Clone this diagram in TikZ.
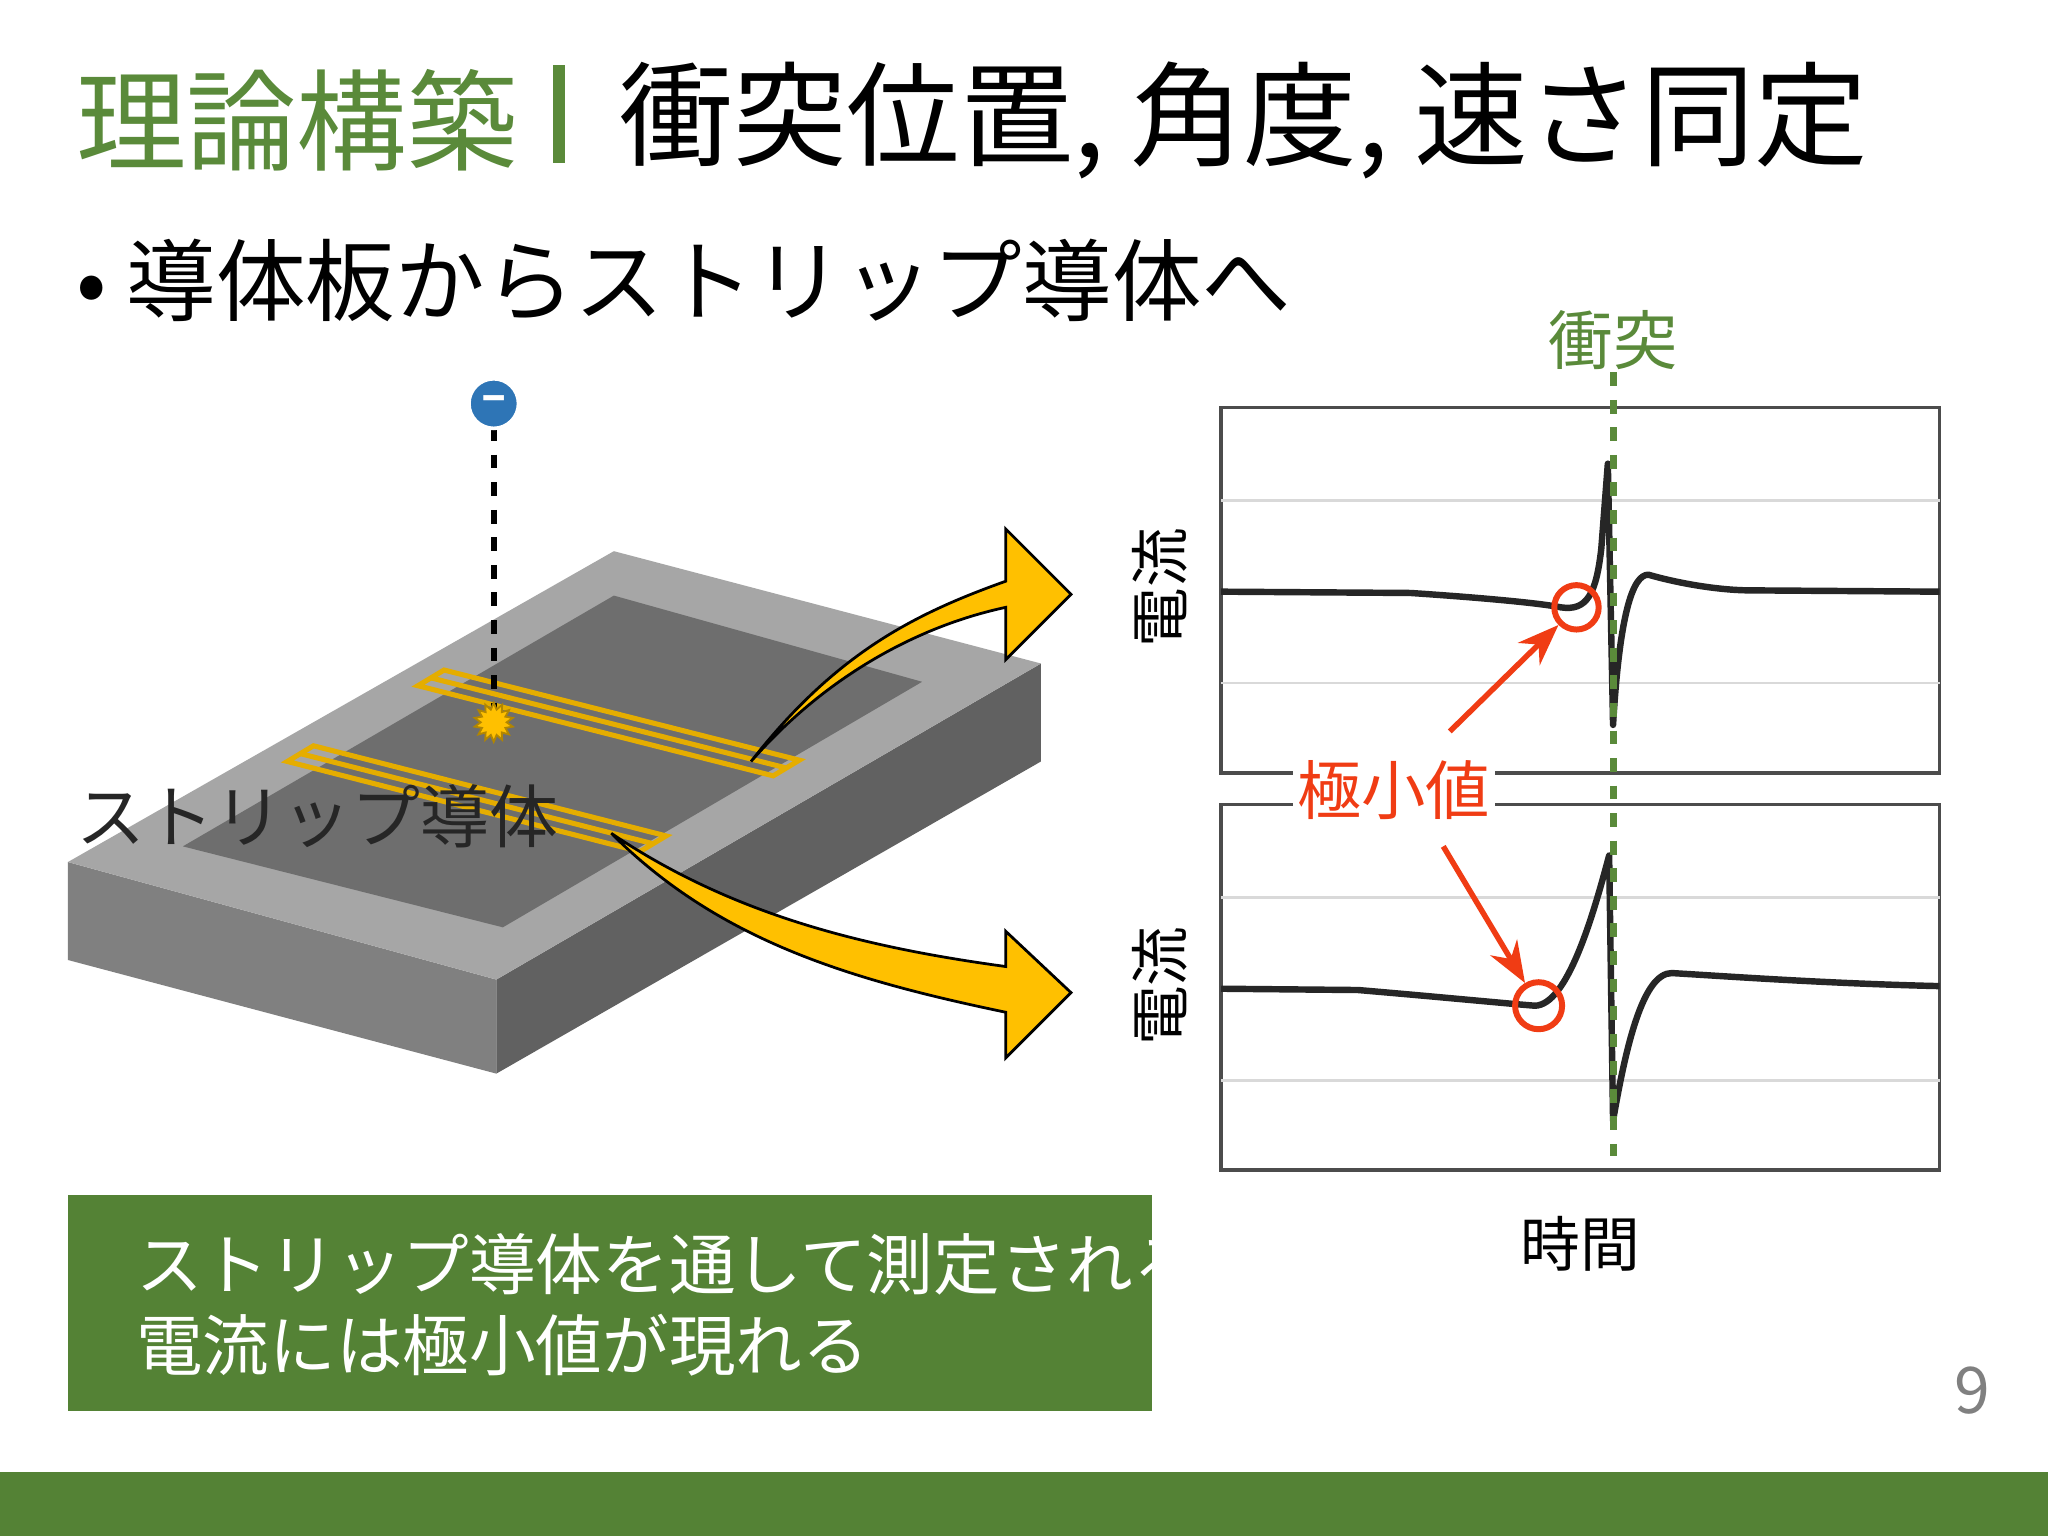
\documentclass[tikz,border=0pt]{standalone}
\usepackage{fontspec}
\setmainfont{Noto Sans CJK JP}
\usetikzlibrary{shapes.misc,shapes.geometric,arrows.meta}
\definecolor{pgreen}{HTML}{548235}
\definecolor{pgreenb}{HTML}{5A8A3A}
\definecolor{arrY}{HTML}{FFC000}
\definecolor{redc}{HTML}{F03C14}
\definecolor{eblue}{HTML}{2E75B6}
\tikzset{fs/.style={font=\fontsize{#1}{#1}\selectfont},
 strip/.style={draw=arrY!90!black,line width=1.1pt},
 grid/.style={draw=black!15,line width=0.6pt},
 curve/.style={draw=black!85,line width=1.4pt,line join=round},
 redarr/.style={draw=redc,line width=1.2pt,-{Stealth[length=9pt]}},
 bigarr/.style={fill=arrY,draw=black,line width=0.6pt}}
\begin{document}
\begin{tikzpicture}[x=0.01cm,y=-0.01cm]
\useasboundingbox (0,0) rectangle (1568,1176);
\fill[white] (0,0) rectangle (1568,1176);
\fill[pgreen] (0,1127) rectangle (1568,1176);
% title
\node[anchor=west,fs=24,text=pgreenb] (t1) at (46,92) {理論構築};
\draw[pgreenb,line width=2.5pt] (428,50) -- (428,125);
\node[anchor=west,fs=24.7] (t2) at (462,92) {衝突位置, 角度, 速さ同定};
\node[anchor=west,fs=19.5] (b1) at (46,215) {• 導体板からストリップ導体へ};
% box
\fill[black!50] (52,660) -- (380,750) -- (380,822) -- (52,735) -- cycle;
\fill[black!62] (380,750) -- (797,508) -- (797,583) -- (380,822) -- cycle;
\fill[black!35] (52,660) -- (470,422) -- (797,508) -- (380,750) -- cycle;
\fill[black!57] (140,648) -- (470,456) -- (706,522) -- (385,710) -- cycle;
% strips
\draw[strip] (320,525) -- (340,513) -- (612,582) -- (592,594) -- cycle;
\draw[strip] (330,519) -- (602,588);
\draw[strip] (220,583) -- (240,571) -- (510,640) -- (490,652) -- cycle;
\draw[strip] (230,577) -- (500,646);
% electron
\draw[dashed,line width=1.3pt] (378,327) -- (378,550);
\node[star,star points=14,star point ratio=1.5,fill=arrY,draw=arrY!70!black,inner sep=2pt] (burst) at (378,553) {};
\node[circle,fill=eblue,draw=white,line width=0.8pt,minimum size=38*0.01cm,inner sep=0,text=white,font=\bfseries] (el) at (378,309) {\fontsize{10}{10}\selectfont –};
% big arrows
\path[bigarr] (575,583) .. controls (640,500) and (700,470) .. (770,445) -- (770,405) -- (820,455) -- (770,505) -- (770,465) .. controls (700,480) and (630,520) .. (575,583) -- cycle;
\path[bigarr] (468,638) .. controls (560,700) and (660,725) .. (770,740) -- (770,713) -- (820,760) -- (770,810) -- (770,775) .. controls (650,750) and (550,720) .. (468,638) -- cycle;
\node[fs=15,text=black!85] (sl) at (243,625) {ストリップ導体};
% plots
\draw[black!70,line width=0.8pt] (935,312) rectangle (1485,592);
\draw[grid] (935,383) -- (1485,383) (935,523) -- (1485,523);
\draw[black!70,line width=0.8pt] (935,616) rectangle (1485,896);
\draw[grid] (935,687) -- (1485,687) (935,827) -- (1485,827);
\draw[curve] (935,453) -- (1080,454) .. controls (1140,458) and (1180,462) .. (1195,465) .. controls (1215,468) and (1222,455) .. (1226,420) -- (1231,355) -- (1235,555) .. controls (1240,470) and (1250,440) .. (1262,440) .. controls (1290,448) and (1320,452) .. (1340,452) -- (1485,453);
\draw[curve] (935,757) -- (1040,758) .. controls (1110,764) and (1150,768) .. (1175,770) .. controls (1200,770) and (1220,700) .. (1232,655) -- (1235,858) .. controls (1245,800) and (1258,745) .. (1280,745) .. controls (1330,748) and (1400,753) .. (1485,755);
\draw[pgreenb,dashed,line width=1.5pt] (1235,285) -- (1235,885);
\node[fs=14,text=pgreenb] (coll) at (1235,260) {衝突};
\node[circle,draw=redc,line width=1.3pt,minimum size=34*0.01cm] (c1) at (1207,465) {};
\node[circle,draw=redc,line width=1.3pt,minimum size=36*0.01cm] (c2) at (1178,770) {};
\node[fs=14,text=redc,fill=white,inner sep=1pt] (min) at (1067,605) {極小値};
\coordinate (a1) at (1110,560);
\coordinate (a2) at (1105,648);
\draw[redarr] (a1) -- (c1);
\draw[redarr] (a2) -- (c2);
\node[fs=13,rotate=90] (y1) at (888,450) {電流};
\node[fs=13,rotate=90] (y2) at (888,755) {電流};
\node[fs=13] (xl) at (1210,952) {時間};
% bottom box
\fill[pgreen] (52,915) rectangle (882,1080);
\begin{scope}
\clip (52,915) rectangle (882,1080);
\node[anchor=west,fs=14.5,text=white] (bx1) at (92,968) {ストリップ導体を通して測定される};
\node[anchor=west,fs=14.5,text=white] (bx2) at (92,1030) {電流には極小値が現れる};
\end{scope}
\node[fs=14,text=black!50] (pg) at (1510,1065) {9};
\end{tikzpicture}
\end{document}
